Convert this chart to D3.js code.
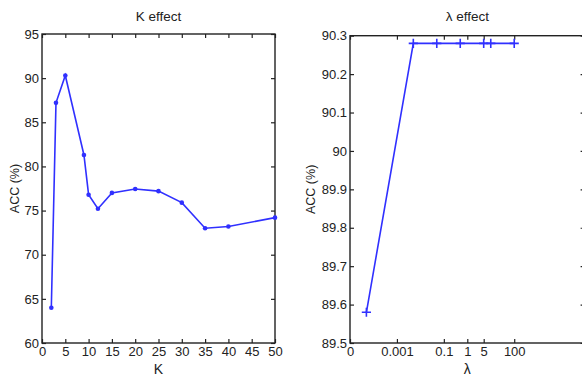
<!DOCTYPE html>
<html>
<head>
<meta charset="utf-8">
<script src="https://cdn.jsdelivr.net/npm/d3@7/dist/d3.min.js"></script>
<style>
html,body{margin:0;padding:0;background:#fff;}
svg{display:block;}
text{font-family:"Liberation Sans",Arial,sans-serif;fill:#222;}
</style>
</head>
<body>
<svg id="c" width="582" height="376"></svg>
<script>
// ---- Data ----
const kValues = [2, 3, 5, 9, 10, 12, 15, 20, 25, 30, 35, 40, 50];
const kAcc    = [64.0, 87.2, 90.3, 81.3, 76.8, 75.2, 77.0, 77.45, 77.2, 75.9, 73.0, 73.2, 74.2];
const kTicks  = [0, 5, 10, 15, 20, 25, 30, 35, 40, 45, 50];
const kYTicks = [60, 65, 70, 75, 80, 85, 90, 95];

const lambdaValues = [0.00005, 0.005, 0.05, 0.5, 5, 10, 100];
const lambdaAcc    = [89.58, 90.28, 90.28, 90.28, 90.28, 90.28, 90.28];
const lambdaTicks  = [0.00001, 0.001, 0.1, 1, 5, 100];
const lambdaTickLabels = ["0", "0.001", "0.1", "1", "5", "100"];
const lambdaYTicks = [89.5, 89.6, 89.7, 89.8, 89.9, 90, 90.1, 90.2, 90.3];

const svg = d3.select("#c");
const lineColor = "#3030ff";
const axisColor = "#222";
const fontSize = "13px";

function styleAxis(g, showLabels) {
  g.select(".domain").remove();
  g.selectAll(".tick line").attr("stroke", axisColor).attr("stroke-width", 1.2);
  g.selectAll(".tick text").style("font-size", fontSize).attr("fill", "#222");
  if (!showLabels) g.selectAll(".tick text").remove();
}

function panel(cfg) {
  const {x, y, x0, x1, y0, y1, xTicks, xFmt, yTicks, yFmt, title, xlabel} = cfg;
  const g = svg.append("g");
  const tl = 4;
  g.append("g").attr("transform", `translate(0,${y0})`)
    .call(d3.axisBottom(x).tickValues(xTicks).tickFormat(xFmt).tickSizeInner(-tl).tickSizeOuter(0).tickPadding(4))
    .call(a => styleAxis(a, true));
  g.append("g").attr("transform", `translate(0,${y1})`)
    .call(d3.axisTop(x).tickValues(xTicks).tickSizeInner(-tl).tickSizeOuter(0))
    .call(a => styleAxis(a, false));
  g.append("g").attr("transform", `translate(${x0},0)`)
    .call(d3.axisLeft(y).tickValues(yTicks).tickFormat(yFmt).tickSizeInner(-tl).tickSizeOuter(0).tickPadding(3))
    .call(a => styleAxis(a, true));
  g.append("g").attr("transform", `translate(${x1},0)`)
    .call(d3.axisRight(y).tickValues(yTicks).tickSizeInner(-tl).tickSizeOuter(0))
    .call(a => styleAxis(a, false));
  g.append("rect").attr("x", x0).attr("y", y1).attr("width", x1 - x0).attr("height", y0 - y1)
    .attr("fill", "none").attr("stroke", axisColor).attr("stroke-width", 1.4);
  g.append("text").attr("x", (x0 + x1) / 2).attr("y", 21).attr("text-anchor", "middle")
    .style("font-size", "13.5px").text(title);
  g.append("text").attr("x", (x0 + x1) / 2).attr("y", 374).attr("text-anchor", "middle")
    .style("font-size", "14px").text(xlabel);
  g.append("text").attr("transform", `translate(${cfg.ylabelX},${(y0 + y1) / 2}) rotate(-90)`)
    .attr("text-anchor", "middle").attr("dy", "0.35em")
    .style("font-size", "12.5px").text("ACC (%)");
  return g;
}

// ---- Left panel: K effect ----
const xK = d3.scaleLinear().domain([0, 50]).range([42, 275]);
const yK = d3.scaleLinear().domain([60, 95]).range([343, 34]);
const gK = panel({x: xK, y: yK, x0: 42, x1: 275, y0: 343, y1: 34,
  xTicks: kTicks, xFmt: d3.format("d"), yTicks: kYTicks, yFmt: d3.format("d"),
  title: "K effect", xlabel: "K", ylabelX: 15});
const kData = kValues.map((v, i) => [v, kAcc[i]]);
gK.append("path").datum(kData)
  .attr("d", d3.line().x(d => xK(d[0])).y(d => yK(d[1])))
  .attr("fill", "none").attr("stroke", lineColor).attr("stroke-width", 1.6);
gK.selectAll("circle.m").data(kData).join("circle")
  .attr("cx", d => xK(d[0])).attr("cy", d => yK(d[1])).attr("r", 2.3).attr("fill", lineColor);

// ---- Right panel: lambda effect ----
const xL = d3.scaleLog().domain([1e-5, 1e5]).range([350, 584.6]);
const yL = d3.scaleLinear().domain([89.5, 90.3]).range([343, 35.7]);
const gL = panel({x: xL, y: yL, x0: 350, x1: 584.6, y0: 343, y1: 35.7,
  xTicks: lambdaTicks, xFmt: (d, i) => lambdaTickLabels[i], yTicks: lambdaYTicks,
  yFmt: d => (Math.round(d * 10) / 10).toString(),
  title: "\u03bb effect", xlabel: "\u03bb", ylabelX: 311});
const lData = lambdaValues.map((v, i) => [v, lambdaAcc[i]]);
gL.append("path").datum(lData)
  .attr("d", d3.line().x(d => xL(d[0])).y(d => yL(d[1])))
  .attr("fill", "none").attr("stroke", lineColor).attr("stroke-width", 1.6);
const s = 4.6;
gL.selectAll("path.plus").data(lData).join("path").attr("class", "plus")
  .attr("d", d => { const cx = xL(d[0]), cy = yL(d[1]);
    return `M${cx - s},${cy}H${cx + s}M${cx},${cy - s}V${cy + s}`; })
  .attr("stroke", lineColor).attr("stroke-width", 1.6).attr("fill", "none");
</script>
</body>
</html>
